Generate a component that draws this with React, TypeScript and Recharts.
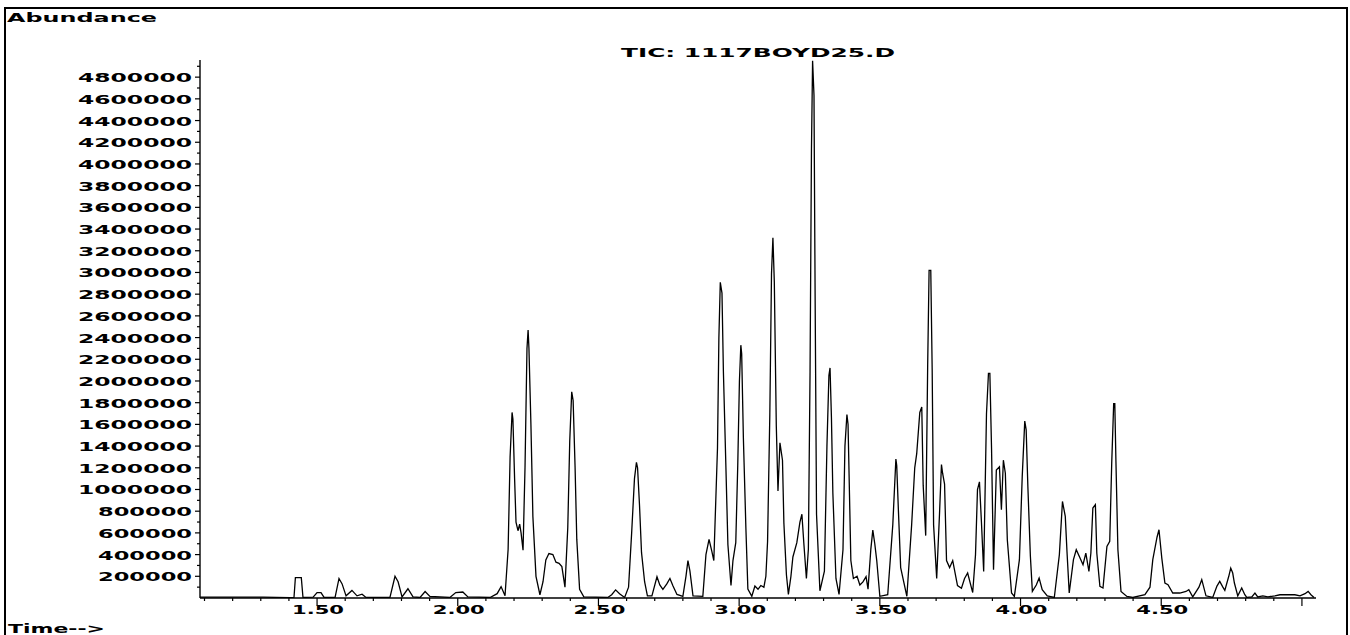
import React from "react";
import { LineChart, Line, XAxis, YAxis } from "recharts";

// ---------- DATA (retention time in min, abundance) ----------
const segBaseline: [number, number][] = [
  [1.084, 8000], [1.308, 8000], [1.404, 3000], [1.418, 5000], [1.423, 188000], [1.444, 188000],
  [1.45, 5000], [1.486, 8000], [1.5, 50000], [1.514, 50000], [1.525, 5000], [1.564, 5000],
  [1.578, 180000], [1.589, 130000], [1.603, 20000], [1.624, 70000], [1.642, 20000], [1.66, 35000],
  [1.674, 5000], [1.759, 5000], [1.777, 200000], [1.788, 150000], [1.802, 10000], [1.823, 85000],
  [1.841, 10000], [1.866, 5000], [1.884, 60000], [1.901, 15000], [1.972, 5000], [1.993, 50000],
  [2.018, 55000], [2.036, 10000], [2.115, 5000], [2.14, 40000], [2.154, 105000], [2.168, 20000],
];

const segEarly: [number, number][] = [
  [2.179, 450000], [2.186, 1300000], [2.193, 1710000], [2.196, 1650000], [2.202, 1100000],
  [2.207, 700000], [2.214, 620000], [2.22, 680000], [2.225, 600000], [2.232, 440000],
  [2.239, 1200000], [2.246, 2300000], [2.25, 2470000], [2.253, 2300000], [2.26, 1600000],
  [2.267, 750000], [2.278, 200000], [2.292, 30000], [2.303, 150000], [2.313, 350000],
  [2.324, 410000], [2.338, 400000], [2.349, 330000], [2.36, 320000], [2.37, 290000],
  [2.381, 100000], [2.391, 650000], [2.398, 1450000], [2.405, 1900000], [2.41, 1820000],
  [2.417, 1200000], [2.423, 540000], [2.433, 80000], [2.448, 10000], [2.533, 5000],
  [2.547, 30000], [2.561, 75000], [2.575, 40000], [2.593, 5000], [2.607, 100000],
  [2.618, 600000], [2.628, 1100000], [2.635, 1250000], [2.639, 1200000], [2.646, 850000],
  [2.653, 420000], [2.664, 150000], [2.674, 20000],
];

const segMiddle: [number, number][] = [
  [2.69, 20000], [2.708, 195000], [2.718, 120000], [2.729, 80000], [2.743, 130000],
  [2.754, 180000], [2.765, 110000], [2.779, 33000], [2.8, 15000], [2.811, 200000],
  [2.818, 345000], [2.825, 250000], [2.836, 20000], [2.871, 15000], [2.882, 400000],
  [2.893, 540000], [2.903, 430000], [2.91, 345000], [2.917, 900000], [2.923, 1380000],
  [2.928, 2400000], [2.933, 2910000], [2.939, 2810000], [2.944, 2090000], [2.953, 1200000],
  [2.96, 493000], [2.971, 115000], [2.978, 345000], [2.988, 510000], [2.995, 1220000],
  [3.001, 2000000], [3.006, 2330000], [3.009, 2250000], [3.015, 1480000], [3.024, 641000],
  [3.031, 82000], [3.045, 16000], [3.056, 110000], [3.067, 80000], [3.077, 115000],
  [3.088, 100000], [3.095, 200000], [3.101, 520000], [3.109, 1690000], [3.115, 2990000],
  [3.12, 3320000], [3.125, 2910000], [3.132, 1590000], [3.138, 986000], [3.145, 1430000],
  [3.154, 1270000], [3.159, 690000], [3.168, 214000], [3.175, 33000], [3.184, 200000],
  [3.191, 378000], [3.205, 510000], [3.216, 700000], [3.223, 772000], [3.23, 500000],
  [3.239, 180000], [3.246, 450000], [3.252, 2090000], [3.257, 4140000], [3.261, 4950000],
  [3.266, 4630000], [3.27, 2780000], [3.275, 772000], [3.287, 66000], [3.303, 247000],
  [3.312, 1400000], [3.319, 2050000], [3.323, 2120000], [3.328, 1660000], [3.333, 970000],
  [3.344, 180000], [3.355, 33000], [3.369, 444000], [3.376, 1400000], [3.383, 1690000],
  [3.387, 1600000], [3.392, 970000], [3.397, 345000], [3.406, 180000], [3.419, 200000],
  [3.429, 120000], [3.44, 148000], [3.451, 197000], [3.458, 82000], [3.468, 450000],
  [3.475, 625000], [3.482, 500000], [3.489, 345000], [3.5, 16000],
];

const segLate: [number, number][] = [
  [3.528, 30000], [3.546, 674000], [3.557, 1280000], [3.56, 1220000], [3.566, 805000],
  [3.574, 280000], [3.596, 16000], [3.613, 674000], [3.624, 1200000], [3.631, 1330000],
  [3.642, 1710000], [3.649, 1760000], [3.654, 1040000], [3.663, 575000], [3.67, 2150000],
  [3.675, 3020000], [3.681, 3020000], [3.686, 2100000], [3.691, 674000], [3.702, 180000],
  [3.712, 772000], [3.719, 1230000], [3.723, 1150000], [3.73, 1050000], [3.737, 345000],
  [3.748, 280000], [3.759, 345000], [3.776, 115000], [3.79, 90000], [3.801, 180000],
  [3.812, 230000], [3.83, 50000], [3.84, 400000], [3.847, 1000000], [3.854, 1070000],
  [3.861, 700000], [3.869, 245000], [3.879, 1700000], [3.886, 2070000], [3.891, 2070000],
  [3.897, 1370000], [3.904, 261000], [3.914, 1180000], [3.925, 1210000], [3.932, 813000],
  [3.939, 1270000], [3.946, 1150000], [3.953, 537000], [3.968, 46000], [3.978, 15000],
  [3.996, 353000], [4.006, 1120000], [4.015, 1630000], [4.02, 1550000], [4.026, 1030000],
  [4.035, 384000], [4.042, 61000], [4.056, 120000], [4.066, 184000], [4.077, 77000],
  [4.095, 20000],
];

const segTail: [number, number][] = [
  [4.12, 5000], [4.138, 400000], [4.149, 890000], [4.159, 752000], [4.165, 430000],
  [4.173, 46000], [4.188, 353000], [4.198, 445000], [4.211, 370000], [4.222, 307000],
  [4.232, 414000], [4.243, 245000], [4.25, 414000], [4.257, 829000], [4.266, 860000],
  [4.271, 414000], [4.282, 107000], [4.293, 92000], [4.307, 476000], [4.317, 522000],
  [4.324, 1240000], [4.331, 1790000], [4.335, 1790000], [4.339, 1260000], [4.346, 445000],
  [4.357, 61000], [4.378, 15000], [4.399, 5000], [4.442, 31000], [4.46, 100000],
  [4.47, 353000], [4.485, 560000], [4.492, 629000], [4.502, 368000], [4.513, 138000],
  [4.524, 123000], [4.541, 46000], [4.566, 46000], [4.588, 60000], [4.598, 77000],
  [4.612, 10000], [4.634, 100000], [4.644, 169000], [4.659, 20000], [4.683, 5000],
  [4.698, 110000], [4.708, 153000], [4.719, 100000], [4.726, 70000], [4.74, 200000],
  [4.747, 276000], [4.754, 230000], [4.76, 138000], [4.772, 20000], [4.786, 92000],
  [4.797, 30000], [4.804, 5000], [4.822, 10000], [4.833, 46000], [4.843, 10000],
  [4.861, 20000], [4.879, 10000], [4.904, 20000], [4.922, 30000], [4.975, 30000],
  [4.993, 20000], [5.011, 40000], [5.022, 61000], [5.032, 30000], [5.043, 5000],
];

const xTicks: number[] = [
  1.1, 1.2, 1.3, 1.4, 1.5, 1.6, 1.7, 1.8, 1.9, 2.0, 2.1, 2.2, 2.3, 2.4, 2.5, 2.6, 2.7, 2.8, 2.9, 3.0,
  3.1, 3.2, 3.3, 3.4, 3.5, 3.6, 3.7, 3.8, 3.9, 4.0, 4.1, 4.2, 4.3, 4.4, 4.5, 4.6, 4.7, 4.8, 4.9, 5.0,
];
const xMajorTicks: number[] = [1.5, 2.0, 2.5, 3.0, 3.5, 4.0, 4.5, 5.0];
const xTickLabels: string[] = ["1.50", "2.00", "2.50", "3.00", "3.50", "4.00", "4.50", ""];

const yLabelTicks: number[] = [
  200000, 400000, 600000, 800000, 1000000, 1200000, 1400000, 1600000, 1800000, 2000000,
  2200000, 2400000, 2600000, 2800000, 3000000, 3200000, 3400000, 3600000, 3800000, 4000000,
  4200000, 4400000, 4600000, 4800000,
];
const yMinorTicks: number[] = [
  100000, 300000, 500000, 700000, 900000, 1100000, 1300000, 1500000, 1700000, 1900000,
  2100000, 2300000, 2500000, 2700000, 2900000, 3100000, 3300000, 3500000, 3700000, 3900000,
  4100000, 4300000, 4500000, 4700000, 4900000,
];

const titleText = "TIC: 1117BOYD25.D";
const yAxisTitle = "Abundance";
const xAxisTitle = "Time-->";

// ---------- RENDERING ----------
const FONT = "'DejaVu Sans', Verdana, sans-serif";

const data = [...segBaseline, ...segEarly, ...segMiddle, ...segLate, ...segTail].map(([t, v]) => ({ t, v }));
const yTicks = [...yMinorTicks, ...yLabelTicks].sort((a, b) => a - b);

function WideText(props: { x: number; y: number; text: string; len: number; anchor?: "start" | "middle" | "end" }) {
  const { x, y, text, len, anchor = "start" } = props;
  const sx = anchor === "end" ? x - len : anchor === "middle" ? x - len / 2 : x;
  return (
    <text
      x={sx}
      y={y}
      textLength={len}
      lengthAdjust="spacingAndGlyphs"
      fontFamily={FONT}
      fontWeight={700}
      fontSize={13}
      fill="#000"
    >
      {text}
    </text>
  );
}

function XTick(props: any) {
  const { x, y, payload } = props;
  const v = Number(payload.value);
  const idx = xMajorTicks.findIndex((m) => Math.abs(m - v) < 1e-6);
  const major = idx >= 0;
  const label = major ? xTickLabels[idx] : "";
  const cx = x;
  return (
    <g>
      <line x1={cx} y1={y} x2={cx} y2={y + (major ? 8 : 3)} stroke="#000" strokeWidth={1.2} />
      {label ? <WideText x={cx + 1} y={y + 16} text={label} len={52} anchor="middle" /> : null}
    </g>
  );
}

function YTick(props: any) {
  const { x, y, payload } = props;
  const v = Number(payload.value);
  const major = yLabelTicks.includes(v);
  const label = major ? String(v) : "";
  const len = label.length >= 7 ? 114 : 94;
  return (
    <g>
      <line x1={x - (major ? 5 : 3)} y1={y} x2={x} y2={y} stroke="#000" strokeWidth={1.2} />
      {label ? <WideText x={x - 8} y={y + 5} text={label} len={len} anchor="end" /> : null}
    </g>
  );
}

export default function App() {
  return (
    <div style={{ position: "absolute", left: 0, top: 0, width: 1350, height: 635, background: "#fff", overflow: "hidden" }}>
      <LineChart width={1350} height={635} data={data} margin={{ top: 60, right: 34, left: 0, bottom: 0 }}>
        <XAxis
          dataKey="t"
          type="number"
          domain={[1.084, 5.05]}
          ticks={xTicks}
          interval={0}
          height={37}
          tickSize={0}
          tickMargin={0}
          tickLine={false}
          axisLine={{ stroke: "#000", strokeWidth: 1.6 }}
          tick={(p: any) => <XTick {...p} />}
          allowDataOverflow
        />
        <YAxis
          type="number"
          domain={[0, 4958000]}
          ticks={yTicks}
          interval={0}
          width={200}
          tickSize={0}
          tickMargin={0}
          tickLine={false}
          axisLine={{ stroke: "#000", strokeWidth: 1.4 }}
          tick={(p: any) => <YTick {...p} />}
          allowDataOverflow
        />
        <Line
          dataKey="v"
          type="linear"
          stroke="#000"
          strokeWidth={1.3}
          dot={false}
          isAnimationActive={false}
        />
      </LineChart>
      <svg width={1350} height={635} style={{ position: "absolute", left: 0, top: 0, pointerEvents: "none" }}>
        <path d="M5,640 L5,8 L1347,8 L1347,640" fill="none" stroke="#000" strokeWidth={2} />
        <WideText x={7} y={22} text={yAxisTitle} len={150} />
        <WideText x={758} y={57} text={titleText} len={274} anchor="middle" />
        <WideText x={8} y={633} text={xAxisTitle} len={97} />
      </svg>
    </div>
  );
}
